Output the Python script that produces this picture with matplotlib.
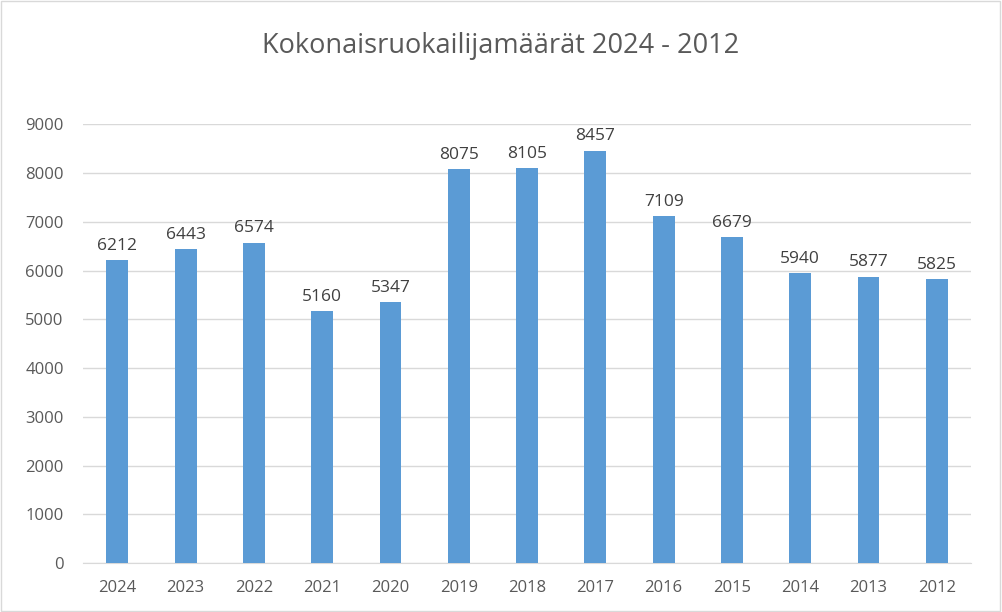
import matplotlib.pyplot as plt
from matplotlib.patches import Rectangle

vuodet = ['2024', '2023', '2022', '2021', '2020', '2019', '2018', '2017',
          '2016', '2015', '2014', '2013', '2012']
ruokailijat = [6212, 6443, 6574, 5160, 5347, 8075, 8105, 8457,
               7109, 6679, 5940, 5877, 5825]

plt.rcParams['font.family'] = ['Open Sans', 'DejaVu Sans']

fig = plt.figure(figsize=(10.02, 6.12), dpi=100)
ax = fig.add_axes([0.083, 0.080, 0.886, 0.717])

x = range(len(vuodet))
ax.bar(x, ruokailijat, width=0.32, color='#5B9BD5', zorder=3)

# arvot pylväiden päälle
for i, v in enumerate(ruokailijat):
    ax.text(i, v + 130, str(v), ha='center', va='bottom', fontsize=12.5, color='#404040')

ax.set_xlim(-0.5, len(vuodet) - 0.5)
ax.set_ylim(0, 9000)
ax.set_yticks(range(0, 9001, 1000))
ax.set_xticks(list(x))
ax.set_xticklabels(vuodet)
ax.tick_params(length=0, labelsize=12, colors='#595959')
ax.tick_params(axis='y', pad=14)
ax.tick_params(axis='x', pad=12)
ax.grid(axis='y', color='#D9D9D9', linewidth=1, zorder=0)
for s in ['top', 'right', 'left']:
    ax.spines[s].set_visible(False)
ax.spines['bottom'].set_color('#D9D9D9')

fig.text(0.5, 0.925, 'Kokonaisruokailijamäärät 2024 - 2012', ha='center', va='center',
         fontsize=19.5, color='#595959')

# kehys kuvan ympärille
fig.patches.append(Rectangle((0.001, 0.002), 0.997, 0.996, transform=fig.transFigure,
                             fill=False, edgecolor='#D9D9D9', linewidth=1))

fig.savefig('out.png', dpi=100)
